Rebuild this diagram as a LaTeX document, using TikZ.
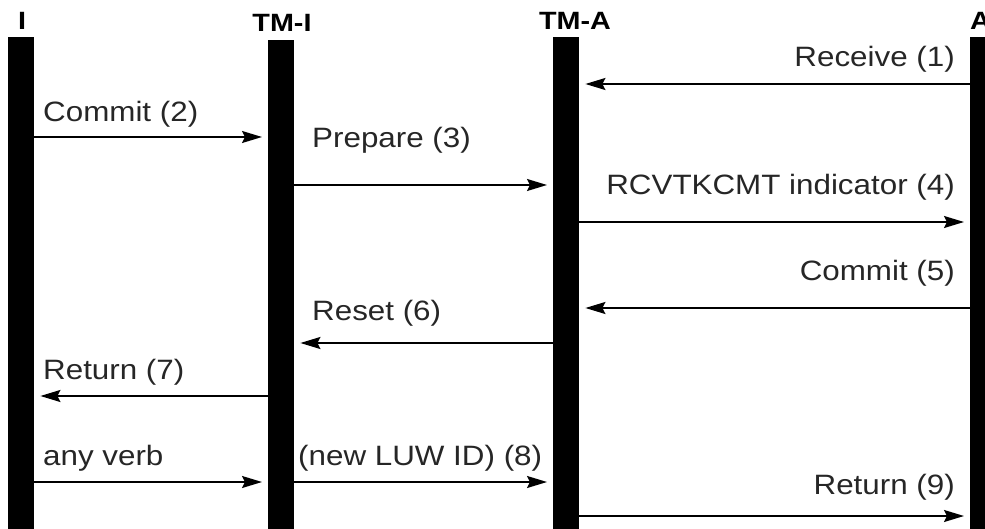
\documentclass[tikz,border=0pt]{standalone}
\usepackage{fontspec}
\setmainfont{Liberation Sans}
\newfontfamily\lblfont[FakeStretch=1.12]{Liberation Sans}
\newfontfamily\headfont[FakeStretch=1.15]{Liberation Sans}
\usetikzlibrary{arrows.meta}
\begin{document}
\begin{tikzpicture}[x=1pt,y=-1pt,
  bar/.style={rectangle,fill=black,draw=none,inner sep=0pt,minimum width=26pt,minimum height=500pt,anchor=north west},
  head/.style={font=\headfont\fontsize{25}{28}\selectfont\bfseries,inner sep=0pt},
  lbl/.style={font=\lblfont\fontsize{28}{32}\selectfont,inner sep=0pt,text=black!85},
  msg/.style={line width=1.8pt,-{Stealth[length=20pt,width=12pt,inset=3pt]},shorten >=6pt}]
\useasboundingbox (0,0) rectangle (985,529);
% lifelines
\node[bar] (I) at (8,37) {};
\node[bar] (TMI) at (268,40) {};
\node[bar] (TMA) at (553,37) {};
\node[bar] (A) at (970,37) {};
% headers
\node[head] (hI) at (22,21) {I};
\node[head] (hTMI) at (282,23) {TM-I};
\node[head] (hTMA) at (575,21) {TM-A};
\node[head,anchor=west] (hA) at (970,21) {A};
% rows
\coordinate (r1) at (0,84);
\coordinate (r2) at (0,137);
\coordinate (r3) at (0,185);
\coordinate (r4) at (0,222);
\coordinate (r5) at (0,308);
\coordinate (r6) at (0,343);
\coordinate (r7) at (0,396);
\coordinate (r8) at (0,482);
\coordinate (r9) at (0,516);
% messages
\draw[msg] (A.west |- r1) -- (TMA.east |- r1);
\draw[msg] (I.east |- r2) -- (TMI.west |- r2);
\draw[msg] (TMI.east |- r3) -- (TMA.west |- r3);
\draw[msg] (TMA.east |- r4) -- (A.west |- r4);
\draw[msg] (A.west |- r5) -- (TMA.east |- r5);
\draw[msg] (TMA.west |- r6) -- (TMI.east |- r6);
\draw[msg] (TMI.west |- r7) -- (I.east |- r7);
\draw[msg] (I.east |- r8) -- (TMI.west |- r8);
\draw[msg] (TMI.east |- r8) -- (TMA.west |- r8);
\draw[msg] (TMA.east |- r9) -- (A.west |- r9);
% labels
\node[lbl,anchor=base east] (l1) at (955,67) {Receive (1)};
\node[lbl,anchor=base west] (l2) at (43,122) {Commit (2)};
\node[lbl,anchor=base west] (l3) at (312,148) {Prepare (3)};
\node[lbl,anchor=base east] (l4) at (955,195) {RCVTKCMT indicator (4)};
\node[lbl,anchor=base east] (l5) at (955,280) {Commit (5)};
\node[lbl,anchor=base west] (l6) at (312,320) {Reset (6)};
\node[lbl,anchor=base west] (l7) at (43,379) {Return (7)};
\node[lbl,anchor=base west] (l8a) at (43,465) {any verb};
\node[lbl,anchor=base west] (l8b) at (298,465) {(new LUW ID) (8)};
\node[lbl,anchor=base east] (l9) at (955,494) {Return (9)};
\end{tikzpicture}
\end{document}
